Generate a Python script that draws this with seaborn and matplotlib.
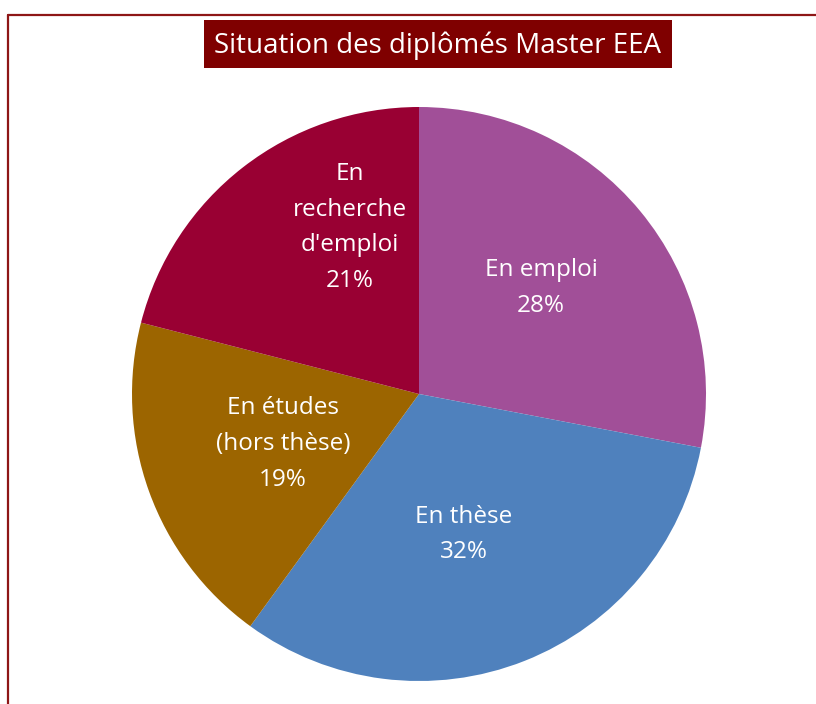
import matplotlib
matplotlib.use("Agg")
import matplotlib.pyplot as plt
from matplotlib.lines import Line2D
from matplotlib.patches import Rectangle
import seaborn as sns

# data
categories = ["En emploi", "En thèse", "En études\n(hors thèse)", "En\nrecherche\nd'emploi"]
shares = [28, 32, 19, 21]
colors = ["#A14F98", "#4F81BD", "#9C6500", "#990033"]
# label anchor points inside the pie (radius = 1)
label_pos = [(0.425, 0.37), (0.157, -0.49), (-0.474, -0.174), (-0.24, 0.58)]
title = "Situation des diplômés Master EEA"

sns.set_theme(style="white")
plt.rcParams['font.family'] = ['Open Sans', 'DejaVu Sans']

W, H = 816, 704
fig = plt.figure(figsize=(W / 100, H / 100), dpi=100)

# pie axes: centre (419, 394) px from top-left, radius 287 px
cx, cy, r = 419, 394, 287
ax = fig.add_axes([(cx - r) / W, (H - cy - r) / H, 2 * r / W, 2 * r / H])
wedges, _ = ax.pie(shares, colors=sns.color_palette(colors), startangle=90,
                   counterclock=False, radius=1,
                   wedgeprops=dict(linewidth=0))
ax.set_xlim(-1, 1)
ax.set_ylim(-1, 1)
ax.axis("off")

total = sum(shares)
for cat, val, (x, y) in zip(categories, shares, label_pos):
    ax.text(x, y, f"{cat}\n{round(100 * val / total)}%", ha="center", va="center",
            color="white", fontsize=17.5, linespacing=1.65)

# chart frame (top and left edges visible)
frame_color = "#8E1616"
fig.add_artist(Line2D([8 / W, 1], [1 - 15 / H, 1 - 15 / H], color=frame_color, lw=1.6,
                      transform=fig.transFigure))
fig.add_artist(Line2D([8 / W, 8 / W], [0, 1 - 15 / H], color=frame_color, lw=1.6,
                      transform=fig.transFigure))

# title box
fig.add_artist(Rectangle((204 / W, 1 - 68 / H), (672 - 204) / W, 48 / H,
                         facecolor="#7F0000", edgecolor="none", transform=fig.transFigure))
fig.text(438 / W, 1 - 46 / H, title, ha="center", va="center", color="white", fontsize=20)

fig.savefig("out.png", dpi=100)
